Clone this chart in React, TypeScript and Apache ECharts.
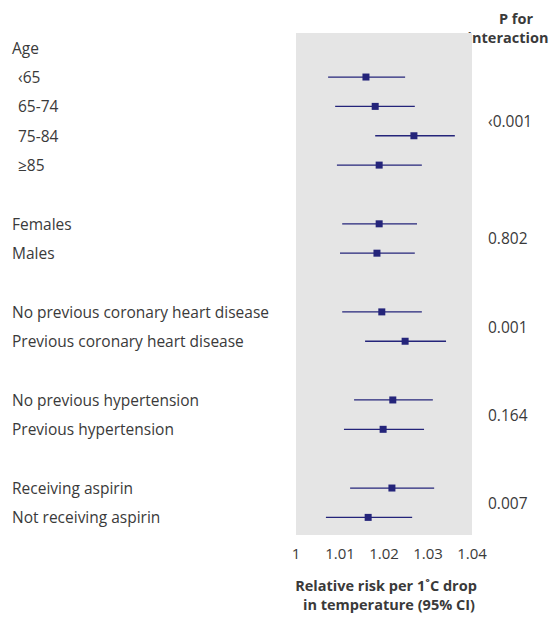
import React, { useEffect, useRef } from 'react';
import * as echarts from 'echarts';

const labels = ['‹65', '65-74', '75-84', '≥85', 'Females', 'Males', 'No previous coronary heart disease', 'Previous coronary heart disease', 'No previous hypertension', 'Previous hypertension', 'Receiving aspirin', 'Not receiving aspirin'];
const rows = [0, 1, 2, 3, 5, 6, 8, 9, 11, 12, 14, 15];
const estimates = [1.0159, 1.018, 1.0268, 1.0189, 1.0189, 1.0184, 1.0195, 1.0248, 1.022, 1.0198, 1.0218, 1.0164];
const lower = [1.0073, 1.0089, 1.018, 1.0093, 1.0105, 1.01, 1.0105, 1.0157, 1.0132, 1.0109, 1.0123, 1.0068];
const upper = [1.0248, 1.027, 1.0361, 1.0286, 1.0275, 1.027, 1.0286, 1.0341, 1.0311, 1.0291, 1.0314, 1.0264];
const pValues = ['‹0.001', '0.802', '0.001', '0.164', '0.007'];
const pRows = [1.5, 5.5, 8.5, 11.5, 14.5];

const FONT = 'Open Sans';
const TXT = '#3a3a3a';
const NAVY = '#24247a';

const txt = (text: string, x: number, y: number, bold = false, align = 'left', size = 15.5) => ({
  type: 'text', x, y,
  style: { text, font: `${bold ? 'bold ' : ''}${size}px "${FONT}"`, fill: TXT, align, verticalAlign: 'middle' },
});

const App: React.FC = () => {
  const ref = useRef<HTMLDivElement | null>(null);
  useEffect(() => {
    if (!ref.current) return;
    const chart = echarts.init(ref.current, null, { renderer: 'svg' });
    const data = rows.map((r, i) => [estimates[i], r, lower[i], upper[i]]);
    chart.setOption({
      animation: false,
      textStyle: { fontFamily: FONT },
      grid: { left: 288, width: 176, top: 25, height: 502 },
      xAxis: {
        type: 'value', min: 1, max: 1.04, interval: 0.01,
        axisLine: { show: false }, axisTick: { show: false }, splitLine: { show: false },
        axisLabel: { color: TXT, fontSize: 15, fontFamily: FONT, margin: 10, formatter: (v: number) => (v === 1 ? '1' : v.toFixed(2)) },
      },
      yAxis: { type: 'value', min: -1.5, max: 15.6, inverse: true, show: false },
      graphic: [
        txt('P for', 508, 10, true, 'center', 14.5),
        txt('interaction', 500, 29, true, 'center', 14.5),
        txt('Age', 4, 40),
        txt('Relative risk per 1˚C drop', 378, 577, true, 'center', 14.5),
        txt('in temperature (95% CI)', 381, 596, true, 'center', 14.5),
      ],
      series: [
        {
          type: 'custom',
          data: [[1, -1.5]],
          z: 0,
          renderItem: (params: any, api: any) => {
            const a = api.coord([1, -1.5]);
            const b = api.coord([1.04, 15.6]);
            return { type: 'rect', shape: { x: a[0], y: a[1], width: b[0] - a[0], height: b[1] - a[1] }, style: { fill: '#e5e5e5' } };
          },
        },
        {
          type: 'custom',
          data,
          z: 5,
          renderItem: (params: any, api: any) => {
            const y = api.value(1);
            const c = api.coord([api.value(0), y]);
            const l = api.coord([api.value(2), y]);
            const u = api.coord([api.value(3), y]);
            const idx = params.dataIndex;
            return {
              type: 'group',
              children: [
                { type: 'line', shape: { x1: l[0], y1: c[1], x2: u[0], y2: c[1] }, style: { stroke: NAVY, lineWidth: 1.3 } },
                { type: 'rect', shape: { x: c[0] - 3.5, y: c[1] - 3.5, width: 7, height: 7 }, style: { fill: NAVY } },
                txt(labels[idx], idx < 4 ? 10 : 4, c[1]),
              ],
            };
          },
        },
        {
          type: 'custom',
          data: pRows.map((r) => [1.04, r]),
          renderItem: (params: any, api: any) => {
            const c = api.coord([1.04, api.value(1)]);
            return txt(pValues[params.dataIndex], 480, c[1]);
          },
        },
      ],
    });
    return () => chart.dispose();
  }, []);
  return <div ref={ref} style={{ width: 550, height: 609 }} />;
};

export default App;
